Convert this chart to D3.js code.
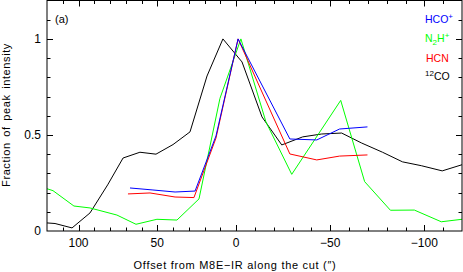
<!DOCTYPE html>
<html>
<head>
<meta charset="utf-8">
<script src="https://cdn.jsdelivr.net/npm/d3@7"></script>
<style>
  body { margin: 0; background: #fff; }
  text { font-family: "Liberation Sans", Arial, sans-serif; fill: #000; }
</style>
</head>
<body>
<div id="chart"></div>
<script>
  // offsets (arcsec) and fraction of peak intensity
  const coOffset = [120, 114.9, 104.1, 92.7, 81.5, 71.7, 61, 50.8, 40, 29.2, 18.4, 8.3, -3.2, -13.8, -24.3, -35.4, -45.5, -56.1, -66.7, -77.8, -88.4, -98.4, -109.5, -120];
  const coValue  = [0.042, 0.039, 0.016, 0.094, 0.24, 0.38, 0.41, 0.40, 0.45, 0.516, 0.807, 1.0, 0.88, 0.594, 0.448, 0.49, 0.505, 0.51, 0.458, 0.41, 0.36, 0.34, 0.313, 0.345];

  const hcoOffset = [67.3, 53.3, 38.7, 26, 12.7, -1.1, -28.6, -42.9, -55, -69.8];
  const hcoValue  = [0.224, 0.214, 0.203, 0.208, 0.495, 1.0, 0.479, 0.474, 0.531, 0.542];

  const hcnOffset = [68.6, 54.6, 38.7, 26.7, 12.7, -1.1, -28.6, -42.9, -55, -69.8];
  const hcnValue  = [0.193, 0.198, 0.177, 0.174, 0.484, 1.0, 0.401, 0.37, 0.39, 0.396];

  const n2hOffset = [120, 116.2, 102.9, 92.7, 75.6, 63.5, 50.2, 37.5, 23.5, 10.2, -2.6, -15.9, -29.6, -55.6, -68.3, -82, -94.7, -109, -120];
  const n2hValue  = [0.22, 0.21, 0.13, 0.12, 0.083, 0.035, 0.061, 0.057, 0.167, 0.69, 1.0, 0.568, 0.295, 0.68, 0.257, 0.108, 0.109, 0.048, 0.061];

  const xTickLabels = [100, 50, 0, -50, -100];
  const yTickLabels = [0, 0.5, 1];

  const width = 463, height = 272;
  const plot = { left: 47, right: 462, top: 0.5, bottom: 231 };

  const svg = d3.select("#chart").append("svg")
    .attr("width", width)
    .attr("height", height);

  // the two halves of the offset axis are drawn with different px per arcsec
  const x = d3.scaleLinear().domain([120, 0, -120]).range([plot.left, 236, plot.right]);
  const y = d3.scaleLinear().domain([0, 1.2]).range([plot.bottom, plot.top]);

  svg.append("clipPath").attr("id", "clip")
    .append("rect")
    .attr("x", plot.left).attr("y", plot.top)
    .attr("width", plot.right - plot.left).attr("height", plot.bottom - plot.top);

  const series = [
    { off: coOffset, val: coValue, color: "#000000" },
    { off: n2hOffset, val: n2hValue, color: "#00ff00" },
    { off: hcnOffset, val: hcnValue, color: "#ff0000" },
    { off: hcoOffset, val: hcoValue, color: "#0000ff" },
  ];

  const line = d3.line().x(d => x(d[0])).y(d => y(d[1]));

  svg.append("g").attr("clip-path", "url(#clip)")
    .selectAll("path")
    .data(series)
    .join("path")
    .attr("d", s => line(d3.zip(s.off, s.val)))
    .attr("fill", "none")
    .attr("stroke", s => s.color)
    .attr("stroke-width", 1);

  // ticks, all pointing inwards
  const minorX = d3.range(-110, 120, 10);
  const minorY = d3.range(1, 12).map(d => d / 10);
  const isMajorX = d => d % 50 === 0;
  const isMajorY = d => Math.abs(d * 2 - Math.round(d * 2)) < 1e-9;

  const tickG = svg.append("g").attr("stroke", "#000").attr("stroke-width", 1);
  minorX.forEach(d => {
    const len = isMajorX(d) ? 6 : 3.5;
    const px = Math.round(x(d)) + 0.5;
    tickG.append("line").attr("x1", px).attr("x2", px).attr("y1", plot.bottom).attr("y2", plot.bottom - len);
    tickG.append("line").attr("x1", px).attr("x2", px).attr("y1", plot.top).attr("y2", plot.top + len);
  });
  minorY.forEach(d => {
    const len = isMajorY(d) ? 6 : 3.5;
    const py = Math.round(y(d)) + 0.5;
    tickG.append("line").attr("y1", py).attr("y2", py).attr("x1", plot.left).attr("x2", plot.left + len);
    tickG.append("line").attr("y1", py).attr("y2", py).attr("x1", plot.right).attr("x2", plot.right - len);
  });

  svg.append("rect")
    .attr("x", plot.left).attr("y", plot.top)
    .attr("width", plot.right - plot.left).attr("height", plot.bottom - plot.top)
    .attr("fill", "none").attr("stroke", "#000");

  svg.append("g").selectAll("text")
    .data(xTickLabels)
    .join("text")
    .attr("x", d => x(d))
    .attr("y", 247)
    .attr("text-anchor", "middle")
    .attr("font-size", 12)
    .text(d => d < 0 ? "\u2212" + Math.abs(d) : d);

  svg.append("g").selectAll("text")
    .data(yTickLabels)
    .join("text")
    .attr("x", 41)
    .attr("y", d => y(d) + 4)
    .attr("text-anchor", "end")
    .attr("font-size", 12)
    .text(d => d);

  svg.append("text")
    .attr("x", 235).attr("y", 269)
    .attr("text-anchor", "middle")
    .attr("font-size", 11)
    .attr("letter-spacing", 0.7)
    .text("Offset from M8E\u2212IR along the cut (\u2033)");

  svg.append("text")
    .attr("transform", "translate(9.5,115) rotate(-90)")
    .attr("text-anchor", "middle")
    .attr("font-size", 11)
    .attr("letter-spacing", 0.6)
    .attr("word-spacing", 2)
    .text("Fraction of peak intensity");

  svg.append("text")
    .attr("x", 55).attr("y", 23)
    .attr("font-size", 11)
    .text("(a)");

  // legend
  const legendFont = "'Liberation Sans Narrow', 'Liberation Sans', Arial, sans-serif";
  const lg = svg.append("g").style("font-family", legendFont).attr("font-size", 10.5);

  const t1 = lg.append("text").attr("x", 425).attr("y", 23).style("fill", "#0000ff");
  t1.append("tspan").text("HCO");
  t1.append("tspan").attr("dy", -4).attr("font-size", 8).text("+");

  const t2 = lg.append("text").attr("x", 425).attr("y", 42).style("fill", "#00ff00");
  t2.append("tspan").text("N");
  t2.append("tspan").attr("dy", 3).attr("font-size", 8).text("2");
  t2.append("tspan").attr("dy", -3).text("H");
  t2.append("tspan").attr("dy", -4).attr("font-size", 8).text("+");

  lg.append("text").attr("x", 426).attr("y", 62).style("fill", "#ff0000").text("HCN");

  const t4 = lg.append("text").attr("x", 425).attr("y", 80).style("fill", "#000");
  t4.append("tspan").attr("dy", -4).attr("font-size", 8).text("12");
  t4.append("tspan").attr("dy", 4).text("CO");
</script>
</body>
</html>
